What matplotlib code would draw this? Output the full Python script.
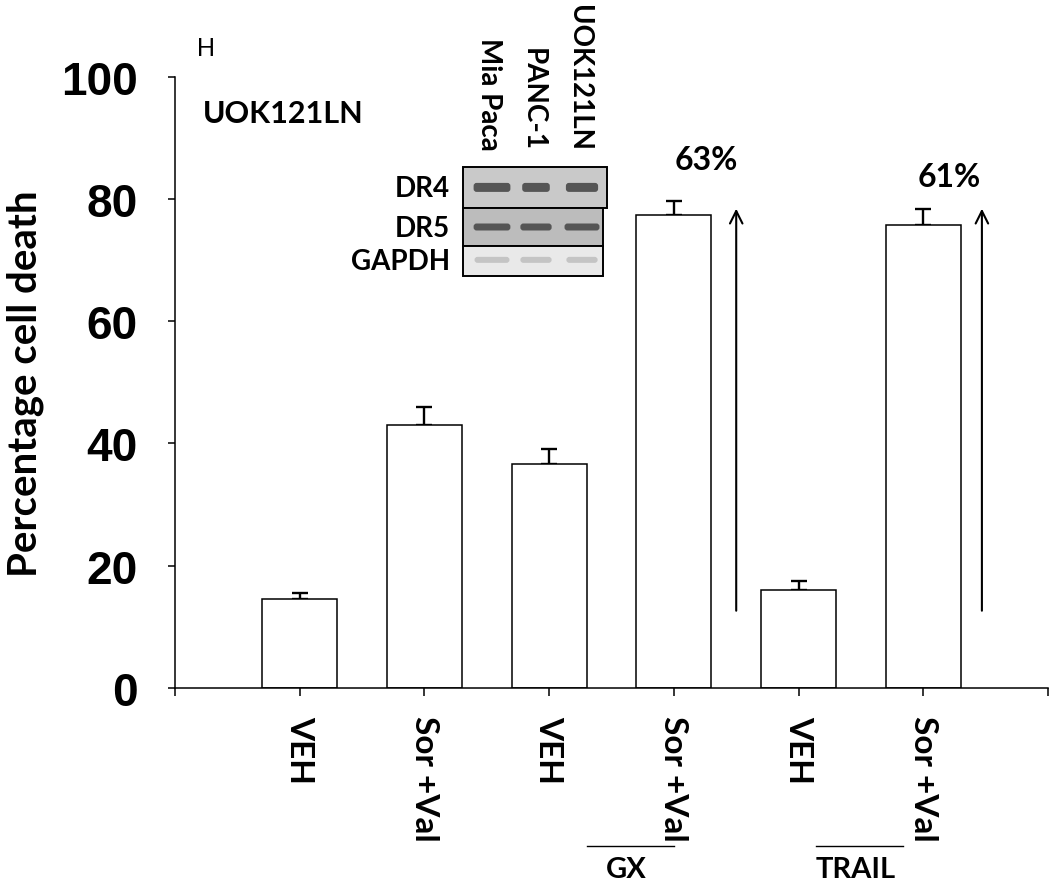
import matplotlib
matplotlib.use("Agg")
import matplotlib.pyplot as plt
from matplotlib.patches import Rectangle, FancyBboxPatch
from matplotlib.transforms import blended_transform_factory

# ---------------- data ----------------
categories = ["VEH", "Sor +Val", "VEH", "Sor +Val", "VEH", "Sor +Val"]
values = [14.5, 43.0, 36.6, 77.3, 16.0, 75.8]
errors = [1.0, 2.9, 2.5, 2.4, 1.5, 2.5]
yticks = [0, 20, 40, 60, 80, 100]
groups = ["GX", "TRAIL"]
pct_labels = ["63%", "61%"]
arrow_from = [12.6, 12.6]
arrow_to = [78.4, 78.4]

blot_rows = ["DR4", "DR5", "GAPDH"]
blot_lanes = ["Mia Paca", "PANC-1", "UOK121LN"]
# relative band widths (fraction of lane) per row x lane
band_width = [[0.80, 0.60, 0.70], [0.80, 0.68, 0.76], [0.76, 0.68, 0.68]]
band_color = ["#555555", "#555555", "#c4c4c4"]
row_bg = ["#c9c9c9", "#bcbcbc", "#e9e9e9"]

CAL = ["Lato", "DejaVu Sans"]

W, H = 1050, 887
fig = plt.figure(figsize=(W / 100, H / 100), dpi=100)
ax = fig.add_axes([175 / W, (H - 688.7) / H, (1048 - 175) / W, (688.7 - 77.7) / H])

x = list(range(1, len(values) + 1))
ax.bar(x, values, width=0.6, color="white", edgecolor="black", linewidth=1.1, zorder=2)
ax.errorbar(x, values, yerr=[[0] * len(errors), errors], fmt="none",
            ecolor="black", elinewidth=1.7, capsize=6, capthick=1.7, zorder=1)

ax.set_xlim(0, 7)
ax.set_ylim(0, 100)
for s in ["top", "right"]:
    ax.spines[s].set_visible(False)
for s in ["left", "bottom"]:
    ax.spines[s].set_linewidth(1.1)

ax.set_yticks(yticks)
ax.set_yticklabels([str(v) for v in yticks], fontfamily="Liberation Sans",
                   fontweight="bold", fontsize=33)
ax.tick_params(axis="y", direction="out", length=5, width=1.1, pad=22)

ax.set_xticks(range(0, 8))
ax.set_xticklabels([""] + categories + [""], rotation=-90, fontfamily=CAL,
                   fontweight="bold", fontsize=24, va="top", ha="center")
ax.tick_params(axis="x", direction="out", length=6, width=1.1, pad=14)

ax.set_ylabel("Percentage cell death", fontfamily=CAL, fontweight="bold",
              fontsize=29, labelpad=12)

# arrows and percentages
arrow_x = [4.5, 6.47]
for ax_x, y0, y1 in zip(arrow_x, arrow_from, arrow_to):
    ax.annotate("", xy=(ax_x, y1), xytext=(ax_x, y0),
                arrowprops=dict(arrowstyle="->,head_length=0.9,head_width=0.45",
                                lw=1.5, color="black", shrinkA=0, shrinkB=0))
pct_pos = [(4.26, 86.5), (6.21, 83.7)]
for t, (px, py) in zip(pct_labels, pct_pos):
    ax.text(px, py, t, fontfamily=CAL, fontweight="bold", fontsize=23,
            ha="center", va="center")

ax.text(0.22, 94.0, "UOK121LN", fontfamily=CAL, fontweight="bold", fontsize=22,
        ha="left", va="center")

# overlay in pixel coordinates
ov = fig.add_axes([0, 0, 1, 1], zorder=5)
ov.set_xlim(0, W)
ov.set_ylim(H, 0)
ov.axis("off")
ov.patch.set_alpha(0)

ov.text(206, 49, "H", fontfamily="Liberation Sans", fontsize=18, ha="center", va="center")

# group lines and labels under the x axis
bt = blended_transform_factory(ax.transData, ov.transData)
group_spans = [(3.30, 4.0), (5.14, 5.84)]
for g, (a, b) in zip(groups, group_spans):
    ov.plot([a, b], [847, 847], color="black", lw=1.0, transform=bt, clip_on=False)
ov.text(626, 883, groups[0], fontfamily=CAL, fontweight="bold", fontsize=21,
        ha="center", va="bottom")
ov.text(856, 883, groups[1], fontfamily=CAL, fontweight="bold", fontsize=21,
        ha="center", va="bottom")

# western blot inset
bx0 = 463
row_bounds = [(167.5, 209.3, 607), (209.3, 246.7, 603), (246.7, 277.0, 603)]
lane_cx = [492, 536, 582]
lane_w = 46
band_h = [9, 7, 6]
for r, (name, (y0, y1, xr)) in enumerate(zip(blot_rows, row_bounds)):
    ov.add_patch(Rectangle((bx0, y0), xr - bx0, y1 - y0, facecolor=row_bg[r],
                           edgecolor="black", lw=1.4))
    yc = (y0 + y1) / 2 + (0 if r < 2 else -1)
    for l, cx in enumerate(lane_cx):
        bw = band_width[r][l] * lane_w
        ov.add_patch(FancyBboxPatch((cx - bw / 2, yc - band_h[r] / 2), bw, band_h[r],
                                    boxstyle="round,pad=0,rounding_size=3",
                                    facecolor=band_color[r], edgecolor="none"))
    ov.text(450, yc + 1, name, fontfamily=CAL, fontweight="bold", fontsize=20,
            ha="right", va="center")

for name, cx in zip(blot_lanes, lane_cx):
    ov.text(cx - 3, 151, name, fontfamily=CAL, fontweight="bold", fontsize=20,
            rotation=-90, ha="center", va="bottom")

fig.savefig("out.png", dpi=100)
